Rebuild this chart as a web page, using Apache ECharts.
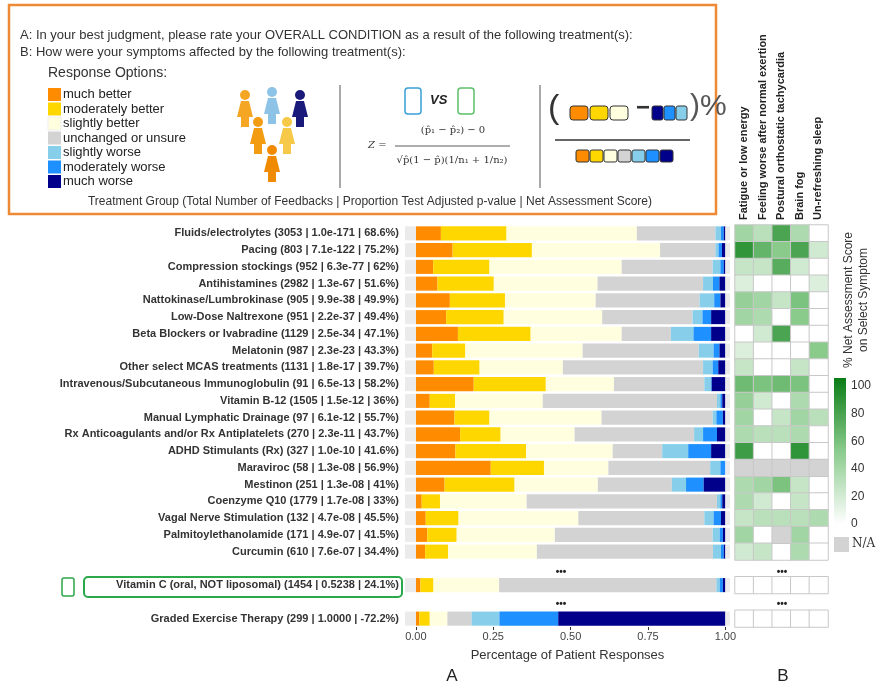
<!DOCTYPE html>
<html><head><meta charset="utf-8">
<script src="https://cdn.jsdelivr.net/npm/echarts@6/dist/echarts.min.js"></script>
<style>html,body{margin:0;padding:0;background:#fff}#main{width:886px;height:687px}</style>
</head><body><div id="main"></div>
<script>
let myChart = echarts.init(document.getElementById('main'));

let options = ['much better', 'moderately better', 'slightly better', 'unchanged or unsure', 'slightly worse', 'moderately worse', 'much worse']
let colors = ['#FF8C00', '#FFD700', '#FFFFE0', '#D3D3D3', '#87CEEB', '#1E90FF', '#00008B']

// treatment, shares of the seven responses
let rows = [
    ['Fluids/electrolytes (3053 | 1.0e-171 | 68.6%)', [.081, .212, .421, .254, .018, .009, .005]],
    ['Pacing (803 | 7.1e-122 | 75.2%)', [.119, .256, .414, .179, .010, .011, .011]],
    ['Compression stockings (952 | 6.3e-77 | 62%)', [.056, .182, .427, .294, .025, .011, .005]],
    ['Antihistamines (2982 | 1.3e-67 | 51.6%)', [.070, .182, .335, .341, .032, .021, .019]],
    ['Nattokinase/Lumbrokinase (905 | 9.9e-38 | 49.9%)', [.110, .178, .293, .336, .047, .020, .016]],
    ['Low-Dose Naltrexone (951 | 2.2e-37 | 49.4%)', [.098, .186, .318, .292, .032, .028, .046]],
    ['Beta Blockers or Ivabradine (1129 | 2.5e-34 | 47.1%)', [.136, .235, .294, .159, .073, .057, .046]],
    ['Melatonin (987 | 2.3e-23 | 43.3%)', [.053, .107, .379, .375, .048, .019, .019]],
    ['Other select MCAS treatments (1131 | 1.8e-17 | 39.7%)', [.058, .148, .269, .453, .031, .018, .023]],
    ['Intravenous/Subcutaneous Immunoglobulin (91 | 6.5e-13 | 58.2%)', [.187, .233, .220, .292, .022, .002, .044]],
    ['Vitamin B-12 (1505 | 1.5e-12 | 36%)', [.045, .082, .283, .563, .011, .006, .010]],
    ['Manual Lymphatic Drainage (97 | 6.1e-12 | 55.7%)', [.125, .113, .362, .359, .012, .021, .008]],
    ['Rx Anticoagulants and/or Rx Antiplatelets (270 | 2.3e-11 | 43.7%)', [.143, .131, .239, .386, .029, .045, .027]],
    ['ADHD Stimulants (Rx) (327 | 1.0e-10 | 41.6%)', [.128, .228, .280, .160, .084, .074, .046]],
    ['Maraviroc (58 | 1.3e-08 | 56.9%)', [.242, .172, .208, .329, .033, .016, 0]],
    ['Mestinon (251 | 1.3e-08 | 41%)', [.093, .226, .269, .239, .046, .057, .070]],
    ['Coenzyme Q10 (1779 | 1.7e-08 | 33%)', [.019, .059, .280, .615, .011, .006, .010]],
    ['Vagal Nerve Stimulation (132 | 4.7e-08 | 45.5%)', [.032, .106, .387, .407, .030, .024, .014]],
    ['Palmitoylethanolamide (171 | 4.9e-07 | 41.5%)', [.037, .095, .317, .510, .023, .010, .008]],
    ['Curcumin (610 | 7.6e-07 | 34.4%)', [.030, .074, .287, .569, .026, .009, .005]],
    ['', null],
    ['Vitamin C (oral, NOT liposomal) (1454 | 0.5238 | 24.1%)', [.015, .042, .212, .702, .011, .010, .008]],
    ['', null],
    ['Graded Exercise Therapy (299 | 1.0000 | -72.2%)', [.011, .034, .057, .078, .090, .190, .540]]
]

let symptoms = ['Fatigue or low energy', 'Feeling worse after normal exertion', 'Postural orthostatic tachycardia', 'Brain fog', 'Un-refreshing sleep']
// net assessment score per symptom, null = N/A
let heat = [
    [40, 30, 75, 35, 0], [85, 65, 50, 75, 20], [25, 25, 70, 20, 0], [15, 0, 0, 0, 15],
    [45, 40, 25, 55, 0], [40, 35, 0, 50, 0], [0, 20, 75, 0, 0], [15, 0, 0, 0, 50],
    [25, 0, 0, 25, 0], [60, 55, 60, 55, 0], [45, 20, 0, 35, 0], [40, 0, 25, 40, 30],
    [35, 30, 30, 35, 0], [80, 0, 0, 85, 0], [null, null, null, null, null], [35, 40, 55, 25, 0],
    [35, 20, 0, 25, 0], [25, 30, 30, 30, 35], [40, 0, null, 40, 0], [20, 25, 0, 35, 0],
    'skip', [0, 0, 0, 0, 0], 'skip', [0, 0, 0, 0, 0]
]

let cats = rows.map((r, i) => 'r' + i)
let heatData = [], naData = []
heat.forEach((row, i) => {
    if (row === 'skip') return
    row.forEach((v, j) => {
        if (v === null) naData.push([j, i, 0])
        else heatData.push([j, i, v])
    })
})

let barBase = {type: 'bar', stack: 'all', xAxisIndex: 0, yAxisIndex: 0, barWidth: '84%', silent: true}
let barSeries = options.map((name, k) => Object.assign({}, barBase, {
    name: name,
    itemStyle: {color: colors[k]},
    data: rows.map(r => r[1] ? r[1][k] : '-')
}))
// grey panel ends either side of the bars
barSeries.push(Object.assign({}, barBase, {itemStyle: {color: '#ebebeb'}, data: rows.map(r => r[1] ? -0.035 : '-')}))
barSeries.push(Object.assign({}, barBase, {itemStyle: {color: '#ebebeb'}, data: rows.map(r => r[1] ? 0.015 : '-')}))

let T = 'Liberation Sans, Arial, sans-serif'
let graphic = [
    {type: 'rect', shape: {x: 9, y: 5, width: 707, height: 209}, style: {fill: 'none', stroke: '#EE8A36', lineWidth: 2.5}},
    {type: 'text', left: 20, top: 29, style: {text: 'A: In your best judgment, please rate your OVERALL CONDITION as a result of the following treatment(s):', font: '13px ' + T, fill: '#333'}},
    {type: 'text', left: 20, top: 46, style: {text: 'B: How were your symptoms affected by the following treatment(s):', font: '13px ' + T, fill: '#333'}},
    {type: 'text', left: 48, top: 66, style: {text: 'Response Options:', font: '14px ' + T, fill: '#333'}},
    {type: 'text', x: 370, y: 202, style: {text: 'Treatment Group (Total Number of Feedbacks | Proportion Test Adjusted p-value | Net Assessment Score)', font: '12px ' + T, fill: '#333', textAlign: 'center', textVerticalAlign: 'middle'}},
    {type: 'line', shape: {x1: 340, y1: 85, x2: 340, y2: 188}, style: {stroke: '#555', lineWidth: 1}},
    {type: 'line', shape: {x1: 540, y1: 85, x2: 540, y2: 188}, style: {stroke: '#555', lineWidth: 1}},
    // formula
    {type: 'text', left: 368, top: 140, style: {text: 'Z =', font: 'italic 10px DejaVu Serif', fill: '#333'}},
    {type: 'text', x: 453, y: 130, style: {text: '(p̂₁ − p̂₂) − 0', font: '10px DejaVu Serif', fill: '#333', textAlign: 'center', textVerticalAlign: 'middle'}},
    {type: 'line', shape: {x1: 395, y1: 146, x2: 510, y2: 146}, style: {stroke: '#333', lineWidth: 0.8}},
    {type: 'text', x: 452, y: 160, style: {text: '√p̂(1 − p̂)(1/n₁ + 1/n₂)', font: '10px DejaVu Serif', fill: '#333', textAlign: 'center', textVerticalAlign: 'middle'}},
    // pills
    {type: 'rect', shape: {x: 405, y: 88, width: 16, height: 26, r: 3}, style: {fill: '#fff', stroke: '#3AA0D8', lineWidth: 1.5}},
    {type: 'text', left: 430, top: 94, style: {text: 'VS', font: 'italic bold 13px ' + T, fill: '#222'}},
    {type: 'rect', shape: {x: 458, y: 88, width: 16, height: 26, r: 3}, style: {fill: '#fff', stroke: '#5CC06A', lineWidth: 1.5}},
    // net score
    {type: 'text', left: 548, top: 92, style: {text: '(', font: '34px ' + T, fill: '#333'}},
    {type: 'text', left: 636, top: 96, style: {text: '−', font: 'bold 24px ' + T, fill: '#333'}},
    {type: 'text', left: 690, top: 92, style: {text: ')%', font: '30px ' + T, fill: '#555'}},
    {type: 'line', shape: {x1: 555, y1: 140, x2: 690, y2: 140}, style: {stroke: '#333', lineWidth: 1.5}},
    // dots
    {type: 'text', x: 561, y: 572, style: {text: '•••', font: 'bold 10px ' + T, fill: '#222', textAlign: 'center', textVerticalAlign: 'middle'}},
    {type: 'text', x: 561, y: 604, style: {text: '•••', font: 'bold 10px ' + T, fill: '#222', textAlign: 'center', textVerticalAlign: 'middle'}},
    {type: 'text', x: 782, y: 572, style: {text: '•••', font: 'bold 10px ' + T, fill: '#222', textAlign: 'center', textVerticalAlign: 'middle'}},
    {type: 'text', x: 782, y: 604, style: {text: '•••', font: 'bold 10px ' + T, fill: '#222', textAlign: 'center', textVerticalAlign: 'middle'}},
    // highlight box
    {type: 'rect', shape: {x: 84, y: 577, width: 318, height: 20, r: 4}, style: {fill: 'none', stroke: '#2BA84A', lineWidth: 2}},
    {type: 'rect', shape: {x: 62, y: 578, width: 12, height: 18, r: 2}, style: {fill: 'none', stroke: '#2BA84A', lineWidth: 1.5}},
    {type: 'text', x: 452, y: 676, style: {text: 'A', font: '17px ' + T, fill: '#222', textAlign: 'center', textVerticalAlign: 'middle'}},
    {type: 'text', x: 783, y: 676, style: {text: 'B', font: '17px ' + T, fill: '#222', textAlign: 'center', textVerticalAlign: 'middle'}},
    // colourbar
    {type: 'rect', shape: {x: 834, y: 378, width: 12, height: 146}, style: {fill: new echarts.graphic.LinearGradient(0, 0, 0, 1, [{offset: 0, color: '#0A7D16'}, {offset: 0.5, color: '#8ACB8C'}, {offset: 1, color: '#ffffff'}])}},
    {type: 'rect', shape: {x: 834, y: 537, width: 15, height: 15}, style: {fill: '#D3D3D3'}},
    {type: 'text', left: 852, top: 538, style: {text: 'N/A', font: '12px DejaVu Serif', fill: '#333'}},
    {type: 'text', x: 856, y: 300, rotation: Math.PI / 2, style: {text: '% Net Assessment Score\non Select Symptom', font: '12px ' + T, fill: '#333', textAlign: 'center', textVerticalAlign: 'middle', lineHeight: 15}}
]
for (let v = 0; v <= 100; v += 20) {
    graphic.push({type: 'text', left: 851, top: 518 - v * 1.38, style: {text: String(v), font: '12px ' + T, fill: '#333'}})
}
// legend swatches
options.forEach((o, k) => {
    graphic.push({type: 'rect', shape: {x: 48, y: 88 + k * 14.5, width: 13, height: 13}, style: {fill: colors[k], stroke: k === 2 ? '#eee' : null}})
    graphic.push({type: 'text', left: 63, top: 88 + k * 14.5, style: {text: o, font: '13px ' + T, fill: '#222'}})
})
// people
let people = [[245, 95, '#F5A623'], [272, 92, '#8EC3E8'], [300, 95, '#1A1A7A'], [258, 122, '#F39C12'], [287, 122, '#F7C948'], [272, 150, '#F08A00']]
people.forEach(p => {
    graphic.push({type: 'circle', shape: {cx: p[0], cy: p[1], r: 5}, style: {fill: p[2]}})
    graphic.push({type: 'polygon', shape: {points: [[p[0] - 4, p[1] + 6], [p[0] + 4, p[1] + 6], [p[0] + 8, p[1] + 22], [p[0] - 8, p[1] + 22]]}, style: {fill: p[2]}})
    graphic.push({type: 'rect', shape: {x: p[0] - 4, y: p[1] + 22, width: 8, height: 10}, style: {fill: p[2]}})
})
// little score boxes
let boxCols = [['#FF8C00', '#FFD700', '#FFFFE0'], ['#00008B', '#1E90FF', '#87CEEB']]
boxCols[0].forEach((c, i) => graphic.push({type: 'rect', shape: {x: 570 + i * 20, y: 106, width: 18, height: 14, r: 3}, style: {fill: c, stroke: '#333'}}))
boxCols[1].forEach((c, i) => graphic.push({type: 'rect', shape: {x: 652 + i * 12, y: 106, width: 11, height: 14, r: 2}, style: {fill: c, stroke: '#333'}}))
colors.forEach((c, i) => graphic.push({type: 'rect', shape: {x: 576 + i * 14, y: 150, width: 13, height: 12, r: 2}, style: {fill: c, stroke: '#333'}}))
// symptom column labels
symptoms.forEach((s, j) => {
    graphic.push({type: 'text', x: 744 + j * 18.6, y: 220, rotation: Math.PI / 2, style: {text: s, font: 'bold 11px ' + T, fill: '#222', textVerticalAlign: 'middle'}})
})

myChart.setOption({
    animation: false,
    textStyle: {fontFamily: T},
    grid: [
        {left: 405, right: 156, top: 225, height: 402},
        {left: 735, width: 93, top: 225, height: 402}
    ],
    xAxis: [
        {
            type: 'value', gridIndex: 0, min: -0.035, max: 1.015,
            name: 'Percentage of Patient Responses', nameLocation: 'middle', nameGap: 22,
            nameTextStyle: {fontSize: 13, color: '#333'},
            axisLine: {show: false}, splitLine: {show: false},
            axisTick: {show: true, customValues: [0, 0.25, 0.5, 0.75, 1], length: 3, lineStyle: {color: '#333'}},
            axisLabel: {customValues: [0, 0.25, 0.5, 0.75, 1], formatter: v => v.toFixed(2), fontSize: 11, color: '#444', margin: 4}
        },
        {type: 'category', gridIndex: 1, data: symptoms, show: false}
    ],
    yAxis: [
        {
            type: 'category', gridIndex: 0, inverse: true, data: cats,
            axisLine: {show: false}, axisTick: {show: false},
            axisLabel: {formatter: (v, i) => rows[i][0], fontSize: 11, fontWeight: 'bold', color: '#333', margin: 6}
        },
        {type: 'category', gridIndex: 1, inverse: true, data: cats, show: false}
    ],
    visualMap: {
        show: false, min: 0, max: 100, seriesIndex: 9, dimension: 2,
        inRange: {color: ['#ffffff', '#8ACB8C', '#0A7D16']}
    },
    series: barSeries.concat([
        {type: 'heatmap', xAxisIndex: 1, yAxisIndex: 1, data: heatData, silent: true,
            itemStyle: {borderColor: '#c8c8c8', borderWidth: 1}},
        {type: 'heatmap', xAxisIndex: 1, yAxisIndex: 1, data: naData, silent: true,
            itemStyle: {color: '#D3D3D3', borderColor: '#c8c8c8', borderWidth: 1}}
    ]),
    graphic: graphic
})
</script>
</body></html>
